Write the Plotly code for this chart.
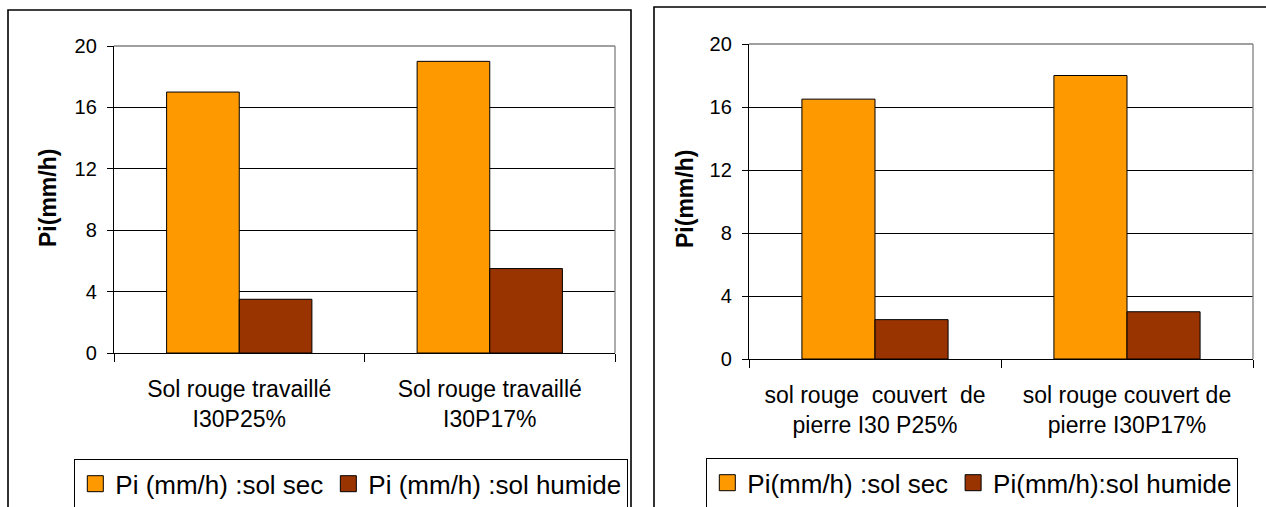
import plotly.graph_objects as go

W, H = 1266, 507

# ---- data ----
cats_left = ["Sol rouge travaillé<br>I30P25%", "Sol rouge travaillé<br>I30P17%"]
sec_left = [17.0, 19.0]
hum_left = [3.5, 5.5]

cats_right = ["sol rouge\u00a0 couvert\u00a0 de<br>pierre I30 P25%",
              "sol rouge couvert de<br>pierre I30P17%"]
sec_right = [16.5, 18.0]
hum_right = [2.5, 3.0]

names_left = ["Pi (mm/h) :sol sec", "Pi (mm/h) :sol humide"]
names_right = ["Pi(mm/h) :sol sec", "Pi(mm/h):sol humide"]
y_title = "Pi(mm/h)"
y_ticks = [0, 4, 8, 12, 16, 20]

C_SEC = "#FF9900"
C_HUM = "#993300"
FONT = "Liberation Sans, Arial, sans-serif"


def px_x(p):
    return p / W


def px_y(p):
    return 1 - p / H


fig = go.Figure()

panels = [
    dict(xa="x", ya="y", cats=cats_left, sec=sec_left, hum=hum_left, names=names_left, legend="legend"),
    dict(xa="x2", ya="y2", cats=cats_right, sec=sec_right, hum=hum_right, names=names_right, legend="legend2"),
]

for p in panels:
    for vals, col in ((p["sec"], C_SEC), (p["hum"], C_HUM)):
        fig.add_trace(go.Bar(
            x=p["cats"], y=vals, xaxis=p["xa"], yaxis=p["ya"],
            marker=dict(color=col, line=dict(color="black", width=1)),
            showlegend=False, hoverinfo="skip"))
    # legend entries (square swatches)
    for name, col in zip(p["names"], (C_SEC, C_HUM)):
        fig.add_trace(go.Scatter(
            x=[None], y=[None], mode="markers", name=name,
            xaxis=p["xa"], yaxis=p["ya"], legend=p["legend"],
            marker=dict(symbol="square", size=16, color=col,
                        line=dict(color="black", width=1))))

xaxis_common = dict(
    type="category", showline=True, linecolor="black", linewidth=1.3,
    ticks="outside", ticklen=8, tickcolor="black", tickwidth=1.3,
    tickson="boundaries", showgrid=False, zeroline=False, automargin=False,
    ticklabelstandoff=15,
    tickfont=dict(family=FONT, size=23, color="black"),
)
yaxis_common = dict(
    range=[0, 20], tickvals=y_ticks, showline=True, linecolor="black", linewidth=1.3,
    ticks="outside", ticklen=6, tickcolor="black", tickwidth=1.3,
    showgrid=True, gridcolor="black", gridwidth=1, zeroline=False, automargin=False,
    ticklabelstandoff=6,
    tickfont=dict(family=FONT, size=20, color="black"),
)

legend_common = dict(orientation="h", xanchor="left", yanchor="top",
                     bordercolor="black", borderwidth=1.3, bgcolor="white",
                     font=dict(family=FONT, size=26, color="black"),
                     itemsizing="trace", tracegroupgap=0)

fig.update_layout(
    width=W, height=H,
    margin=dict(l=0, r=0, t=0, b=0, pad=0, autoexpand=False),
    paper_bgcolor="white", plot_bgcolor="white",
    barmode="group", bargap=0.42, bargroupgap=0,
    font=dict(family=FONT, color="black"),
    xaxis=dict(domain=[px_x(114), px_x(615)], anchor="y", **xaxis_common),
    yaxis=dict(domain=[px_y(353), px_y(46)], anchor="x", **yaxis_common),
    xaxis2=dict(domain=[px_x(749), px_x(1253)], anchor="y2", **xaxis_common),
    yaxis2=dict(domain=[px_y(359), px_y(44)], anchor="x2", **yaxis_common),
    legend=dict(x=px_x(74), y=px_y(459), **legend_common),
    legend2=dict(x=px_x(706), y=px_y(458), **legend_common),
)

shapes = []
# outer panel frames
shapes.append(dict(type="rect", xref="paper", yref="paper",
                   x0=px_x(8), x1=px_x(631), y0=px_y(520), y1=px_y(10),
                   line=dict(color="black", width=1.6), layer="above"))
shapes.append(dict(type="rect", xref="paper", yref="paper",
                   x0=px_x(654), x1=px_x(1280), y0=px_y(520), y1=px_y(7),
                   line=dict(color="black", width=1.6), layer="above"))
# grey plot-area borders (top and right)
for xa, ya in (("x", "y"), ("x2", "y2")):
    shapes.append(dict(type="line", xref=f"{xa} domain", yref=f"{ya} domain",
                       x0=0, x1=1, y0=1, y1=1, line=dict(color="#808080", width=1.3), layer="above"))
    shapes.append(dict(type="line", xref=f"{xa} domain", yref=f"{ya} domain",
                       x0=1, x1=1, y0=0, y1=1, line=dict(color="#808080", width=1.3), layer="above"))
fig.update_layout(shapes=shapes)

for xc, yc in ((48, 198), (685, 199)):
    fig.add_annotation(text=f"<b>{y_title}</b>", textangle=-90, showarrow=False,
                       xref="paper", yref="paper", x=px_x(xc), y=px_y(yc),
                       xanchor="center", yanchor="middle",
                       font=dict(family=FONT, size=23, color="black"))

fig.write_html(
    "out.html",
    config={"displayModeBar": False},
    post_script="document.documentElement.style.margin='0';"
                "document.body.style.margin='0';document.body.style.padding='0';"
                "document.body.style.overflow='hidden';",
)
